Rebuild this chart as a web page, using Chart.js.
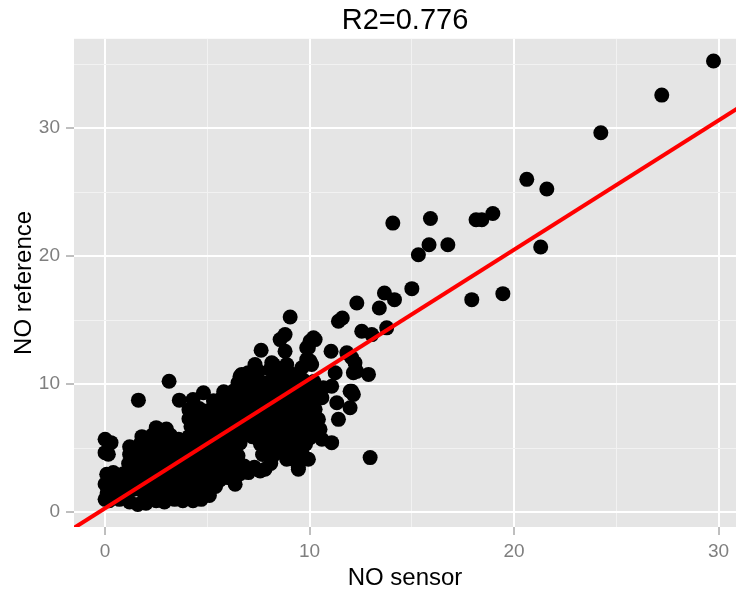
<!DOCTYPE html>
<html>
<head>
<meta charset="utf-8">
<script src="https://cdn.jsdelivr.net/npm/chart.js@4.4.1/dist/chart.umd.min.js"></script>
<style>
  html, body { margin: 0; padding: 0; background: #fff; }
  #wrap { width: 736px; height: 593px; }
</style>
</head>
<body>
<div id="wrap"><canvas id="scatterplot" width="736" height="593"></canvas></div>
<script>
const chartTitle = 'R2=0.776';
const xTitle = 'NO sensor';
const yTitle = 'NO reference';

// NO sensor readings (x)
const sensorNO = [
  // upper outliers
  29.75, 27.22, 24.24, 20.62, 21.6, 14.07, 15.91, 18.14, 18.42, 18.96, 15.32, 15.84, 16.76, 21.3, 15.0, 13.66, 14.15, 13.41, 12.31, 17.93, 19.45, 12.96,
  // middle band
  11.6, 11.41, 12.55, 13.04, 13.77, 10.27, 9.94, 11.05, 11.82, 10.1, 12.22, 12.14, 12.88, 11.25, 10.67, 12.06, 12.3, 12.06, 9.86, 10.02, 11.08, 11.98, 11.33, 11.98, 11.41, 10.27, 10.51, 11.08, 10.43, 10.6, 9.94, 10.6, 10.1, 9.21, 9.45, 12.14,
  9.05, 8.8, 8.56, 7.63, 8.8, 7.33, 8.15, 8.88, 6.6, 9.86, 10.19, 9.62, 10.02, 8.23, 6.68, 8.07, 6.26, 4.81, 8.46,
  3.13, 1.63, 3.63,
  // left column
  0, 0.16, 0.29, 0, 0.08, 0, 0.1, 0, 0.4, 0.45,
  8.88, 9.45, 7.82, 6.36, 7.01, 9.7, 7.58,
  10.0, 10.2, 9.9, 10.3,
  // dense core
  0.2, 0.7, 1.2, 1.6, 2.0, 2.5, 2.9, 3.4, 3.8, 4.3, 4.7, 5.1,
  0.5, 1.0, 1.4, 1.9, 2.3, 2.8, 3.2, 3.7, 4.1, 4.6, 5.0, 5.4,
  0.6, 1.1, 1.5, 2.0, 2.4, 2.9, 3.3, 3.8, 4.2, 4.6, 5.1, 5.6, 6.0,
  0.4, 0.9, 1.3, 1.8, 2.2, 2.7, 3.1, 3.6, 4.0, 4.5, 4.9, 5.3, 5.8, 6.2, 6.6,
  1.15, 1.5, 1.9, 2.4, 2.8, 3.3, 3.7, 4.2, 4.6, 5.0, 5.5, 5.9, 6.4, 6.8, 7.3, 8.1,
  1.2, 1.6, 2.0, 2.5, 2.9, 3.4, 3.8, 4.3, 4.7, 5.2, 5.6, 6.1, 6.5, 7.7, 8.2, 8.6, 9.2,
  1.2, 1.7, 2.1, 2.6, 3.0, 3.5, 3.9, 4.4, 4.8, 5.3, 5.7, 6.2, 6.6, 7.6, 8.0, 8.5, 8.9, 9.4, 9.8,
  1.8, 2.3, 2.8, 3.2, 3.6, 4.1, 4.5, 5.0, 5.4, 5.9, 6.3, 6.8, 7.2, 7.7, 8.1, 8.6, 9.0, 9.5,
  2.5, 3.0, 4.2, 4.6, 5.1, 5.5, 6.0, 6.4, 6.9, 7.3, 7.8, 8.2, 8.7, 9.1, 9.6, 10.1,
  4.1, 4.5, 5.0, 5.4, 5.9, 6.3, 6.8, 7.2, 7.7, 8.1, 8.6, 9.0, 9.5, 9.9,
  4.1, 4.6, 5.0, 5.5, 5.9, 6.4, 6.8, 7.3, 7.7, 8.2, 8.6, 9.1, 9.5, 9.9,
  4.3, 5.3, 5.7, 6.2, 6.6, 7.1, 7.5, 8.0, 8.4, 8.9, 9.3, 9.8,
  5.8, 6.7, 7.2, 7.6, 8.1, 8.9, 9.3, 9.8, 10.2,
  6.5, 7.0, 7.4, 7.9, 8.3, 8.8, 9.2, 9.7, 10.2,
  7.0, 7.5, 8.5, 9.0, 9.4
];

// NO reference readings (y), same order
const referenceNO = [
  35.25, 32.58, 29.64, 26.0, 25.25, 22.58, 22.94, 22.84, 22.84, 23.33, 20.11, 20.89, 20.89, 20.71, 17.46, 17.12, 16.6, 15.95, 16.34, 16.6, 17.07, 4.26,
  15.17, 14.91, 14.13, 13.87, 14.4, 13.48, 12.84, 12.57, 12.45, 11.54, 11.67, 10.89, 10.76, 10.89, 9.72, 9.45, 11.0, 12.06, 11.92, 13.35, 9.84, 9.45, 8.55, 8.16, 7.25, 8.03, 6.47, 5.43, 7.25, 5.69, 4.13, 8.94, 8.29, 4.13, 3.35, 9.2,
  15.25, 13.87, 13.48, 12.65, 12.57, 11.54, 11.67, 11.54, 10.62, 12.84, 13.62, 11.28, 11.8, 11.54, 10.76, 11.15, 9.45, 9.33, 9.35,
  10.23, 8.75, 8.75,
  5.69, 4.52, 5.43, 4.65, 2.96, 2.2, 1.5, 1.0, 1.2, 2.4,
  4.13, 3.48, 3.35, 2.18, 3.09, 4.39, 3.22,
  5.8, 6.5, 7.4, 9.0,
  0.9, 1.0, 0.8, 0.6, 0.7, 0.9, 0.8, 1.0, 0.9, 0.9, 1.0, 1.3,
  1.7, 1.6, 1.8, 1.5, 1.7, 1.6, 1.8, 1.6, 1.7, 1.8, 1.9, 2.0,
  2.5, 2.3, 2.5, 2.4, 2.3, 2.5, 2.4, 2.3, 2.5, 2.4, 2.6, 2.5, 2.7,
  3.1, 3.0, 3.2, 3.1, 3.0, 3.2, 3.1, 3.0, 3.2, 3.1, 3.0, 3.2, 3.1, 3.3, 3.0,
  3.8, 3.7, 3.9, 3.8, 3.7, 3.9, 3.8, 3.7, 3.9, 3.8, 3.7, 3.9, 3.8, 3.6, 3.5, 3.8,
  4.5, 4.6, 4.5, 4.4, 4.6, 4.5, 4.4, 4.6, 4.5, 4.4, 4.6, 4.5, 4.4, 4.5, 4.4, 4.7, 4.8,
  5.1, 5.3, 5.2, 5.1, 5.3, 5.2, 5.1, 5.3, 5.2, 5.1, 5.3, 5.2, 5.4, 5.3, 5.1, 5.3, 5.2, 5.1, 5.3,
  5.9, 6.0, 5.8, 6.0, 5.7, 5.9, 6.0, 5.8, 6.0, 5.9, 5.8, 6.0, 5.9, 5.8, 6.0, 5.9, 5.8, 6.0,
  6.6, 6.5, 6.7, 6.5, 6.6, 6.7, 6.5, 6.6, 6.7, 6.5, 6.6, 6.7, 6.5, 6.6, 6.7, 6.6,
  7.3, 7.4, 7.2, 7.3, 7.4, 7.2, 7.3, 7.4, 7.2, 7.3, 7.4, 7.2, 7.3, 7.4,
  8.0, 8.1, 7.9, 8.0, 8.1, 7.9, 8.0, 8.1, 7.9, 8.0, 8.1, 7.9, 8.0, 8.2,
  8.8, 8.7, 8.9, 8.8, 8.7, 8.9, 8.8, 8.7, 8.9, 8.8, 8.7, 8.9,
  9.4, 9.6, 9.5, 9.4, 9.6, 9.5, 9.4, 9.6, 9.5,
  10.1, 10.3, 10.2, 10.1, 10.3, 10.2, 10.1, 10.3, 10.2,
  10.9, 11.0, 10.8, 10.9, 10.7
];

// fitted line end points (runs past the panel, clipped)
const fitLineX = [-3, 33];
const fitLineY = [-2.73, 33.63];

const xLimits = [-1.52, 30.85];
const yLimits = [-1.16, 36.98];
const xGridValues = [0, 5, 10, 15, 20, 25, 30];
const yGridValues = [0, 5, 10, 15, 20, 25, 30, 35];

const fontFamily = "'Liberation Sans', Arial, Helvetica, sans-serif";
const isMajor = v => v % 10 === 0;

const panelBackground = {
    id: 'panelBackground',
    beforeDraw(chart) {
        const { ctx, chartArea } = chart;
        ctx.save();
        ctx.fillStyle = '#E5E5E5';
        ctx.fillRect(chartArea.left, chartArea.top, chartArea.right - chartArea.left, chartArea.bottom - chartArea.top);
        ctx.restore();
    }
};

function gridOptions() {
    return {
        color: c => (c.tick && isMajor(c.tick.value)) ? '#FFFFFF' : '#F2F2F2',
        lineWidth: c => (c.tick && isMajor(c.tick.value)) ? 2 : 1,
        tickColor: c => (c.tick && isMajor(c.tick.value)) ? '#7F7F7F' : 'rgba(0,0,0,0)',
        tickLength: 8,
        tickWidth: 1
    };
}

const points = sensorNO.map((x, i) => ({ x, y: referenceNO[i] }));
const fitLine = fitLineX.map((x, i) => ({ x, y: fitLineY[i] }));

const ctx = document.getElementById('scatterplot').getContext('2d');
const chart = new Chart(ctx, {
    type: 'scatter',
    data: {
        datasets: [
            {
                type: 'line',
                data: fitLine,
                borderColor: '#FF0000',
                borderWidth: 4,
                pointRadius: 0,
                fill: false,
                order: 0
            },
            {
                data: points,
                backgroundColor: '#000000',
                borderWidth: 0,
                pointRadius: 7.5,
                pointHoverRadius: 7.5,
                order: 1
            }
        ]
    },
    options: {
        responsive: false,
        animation: false,
        layout: { padding: 0, autoPadding: false },
        plugins: {
            legend: { display: false },
            tooltip: { enabled: false },
            title: {
                display: true,
                text: chartTitle,
                fullSize: false,
                color: '#000000',
                font: { family: fontFamily, size: 29, weight: 'normal', lineHeight: 1.2 },
                padding: { top: 4, bottom: 0 }
            }
        },
        scales: {
            x: {
                type: 'linear',
                min: xLimits[0],
                max: xLimits[1],
                afterBuildTicks: scale => { scale.ticks = xGridValues.map(v => ({ value: v })); },
                afterFit: scale => {
                    scale.height = 66;
                    scale.paddingLeft = 0;
                    scale.paddingRight = 0;
                },
                grid: gridOptions(),
                border: { display: false },
                ticks: {
                    autoSkip: false,
                    maxRotation: 0,
                    color: '#7F7F7F',
                    padding: 5,
                    font: { family: fontFamily, size: 19 },
                    callback: v => isMajor(v) ? String(v) : ''
                },
                title: {
                    display: true,
                    text: xTitle,
                    color: '#000000',
                    font: { family: fontFamily, size: 24 },
                    padding: { top: 0, bottom: 0 }
                }
            },
            y: {
                type: 'linear',
                min: yLimits[0],
                max: yLimits[1],
                afterBuildTicks: scale => { scale.ticks = yGridValues.map(v => ({ value: v })); },
                afterFit: scale => {
                    scale.width = 74;
                    scale.paddingTop = 0;
                    scale.paddingBottom = 0;
                },
                grid: gridOptions(),
                border: { display: false },
                ticks: {
                    autoSkip: false,
                    color: '#7F7F7F',
                    padding: 6,
                    font: { family: fontFamily, size: 19 },
                    callback: v => isMajor(v) ? String(v) : ''
                },
                title: {
                    display: true,
                    text: yTitle,
                    color: '#000000',
                    font: { family: fontFamily, size: 24 },
                    padding: { top: 10, bottom: 0 }
                }
            }
        }
    },
    plugins: [panelBackground]
});
</script>
</body>
</html>
